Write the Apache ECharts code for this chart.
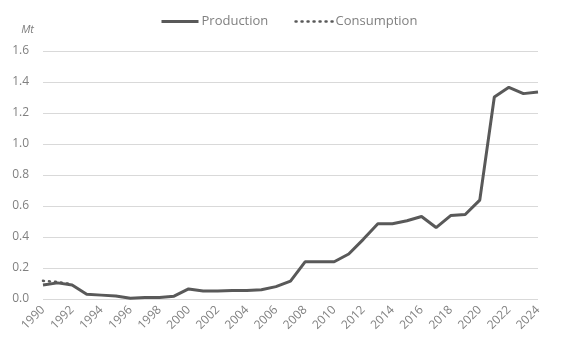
<!DOCTYPE html>
<html>
<head>
<meta charset="utf-8">
<script src="https://cdn.jsdelivr.net/npm/echarts@6/dist/echarts.min.js"></script>
<style>
  html, body { margin: 0; padding: 0; background: #fff; }
  #chart { width: 564px; height: 351px; }
</style>
</head>
<body>
<div id="chart"></div>
<script>
// years on the x axis
const years = [];
for (let y = 1990; y <= 2024; y++) years.push(String(y));

// production, Mt
const production = [
  0.09, 0.104, 0.09, 0.03, 0.025, 0.02, 0.005, 0.01, 0.01, 0.018,
  0.065, 0.052, 0.052, 0.055, 0.055, 0.06, 0.08, 0.115, 0.24, 0.24,
  0.24, 0.29, 0.385, 0.485, 0.485, 0.505, 0.532, 0.461, 0.538, 0.545,
  0.638, 1.303, 1.366, 1.325, 1.336
];

// consumption, Mt (only the first years are reported)
const consumption = [0.117, 0.11, 0.095];

const yTicks = [0, 1.6, 0.2]; // min, max, step

const grey = '#595959';
const textGrey = '#808080';

const chart = echarts.init(document.getElementById('chart'));
chart.setOption({
  animation: false,
  textStyle: { fontFamily: 'Open Sans' },
  legend: {
    top: 10,
    left: 155,
    itemWidth: 37,
    itemHeight: 10,
    itemGap: 26,
    itemStyle: { opacity: 0 },
    textStyle: { color: textGrey, fontSize: 13, padding: [0, 0, 0, -2] },
    data: [
      { name: 'Production', lineStyle: { width: 3 } },
      {
        name: 'Consumption',
        lineStyle: { width: 2.5, type: [1, 5], cap: 'round' }
      }
    ]
  },
  grid: { left: 43, right: 26, top: 51, bottom: 52 },
  xAxis: {
    type: 'category',
    data: years,
    boundaryGap: false,
    axisLine: { show: false },
    axisTick: { show: false },
    axisLabel: {
      interval: 1,
      rotate: 45,
      color: textGrey,
      fontSize: 12,
      margin: 9
    }
  },
  yAxis: {
    type: 'value',
    min: yTicks[0],
    max: yTicks[1],
    interval: yTicks[2],
    name: 'Mt',
    nameGap: 16,
    nameTextStyle: {
      color: textGrey,
      fontStyle: 'italic',
      fontSize: 11,
      align: 'right',
      padding: [0, 9, 0, 0]
    },
    axisLine: { show: false },
    axisTick: { show: false },
    axisLabel: {
      color: textGrey,
      fontSize: 12,
      margin: 14,
      formatter: v => v.toFixed(1)
    },
    splitLine: { lineStyle: { color: '#d9d9d9', width: 1 } }
  },
  series: [
    {
      name: 'Consumption',
      type: 'line',
      data: consumption,
      symbol: 'none',
      lineStyle: { color: grey, width: 2.5, type: [1, 5], cap: 'round' },
      itemStyle: { color: grey }
    },
    {
      name: 'Production',
      type: 'line',
      data: production,
      symbol: 'none',
      lineStyle: { color: grey, width: 3 },
      itemStyle: { color: grey }
    }
  ]
});
</script>
</body>
</html>
